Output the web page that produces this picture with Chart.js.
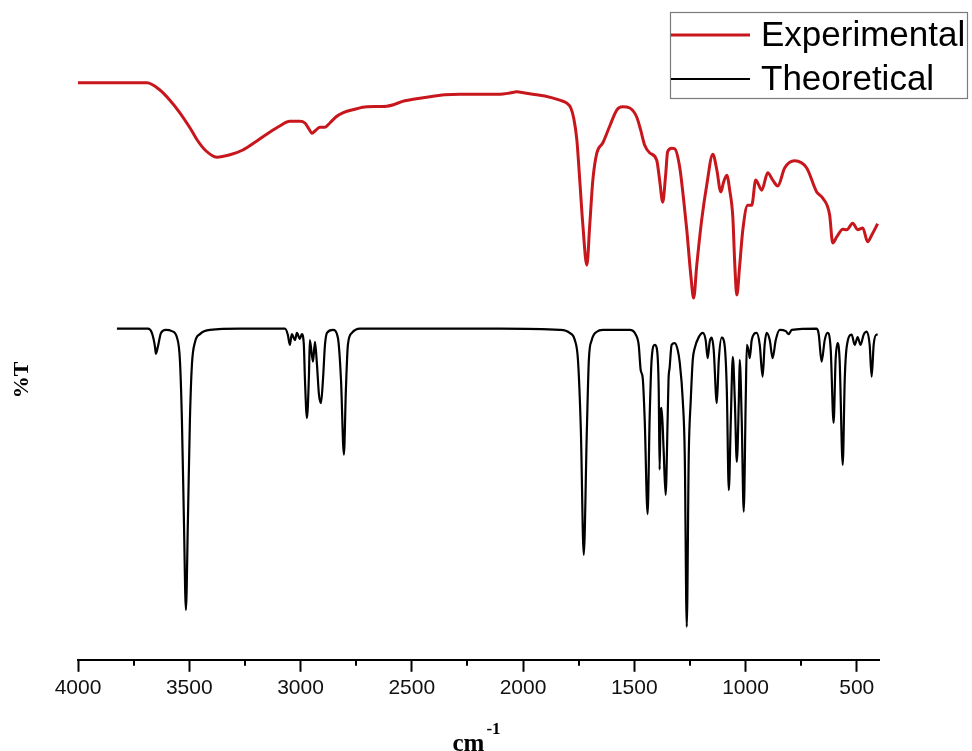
<!DOCTYPE html>
<html>
<head>
<meta charset="utf-8">
<script src="https://cdn.jsdelivr.net/npm/chart.js@4.4.1/dist/chart.umd.min.js"></script>
<style>
html,body{margin:0;padding:0;background:#fff;}
#c{display:block;}
</style>
</head>
<body>
<canvas id="c" width="972" height="751"></canvas>
<script>
// ---- data ----
const seriesNames = ["Experimental", "Theoretical"];
const xTickValues = [4000, 3500, 3000, 2500, 2000, 1500, 1000, 500];
const xMinorTickValues = [3750, 3250, 2750, 2250, 1750, 1250, 750];

const expWn = [4000,3901,3766,3690,3632,3587,3542,3497,3465,3429,3376,3317,3259,3196,3137,3093,3048,3003,2980,2962,2949,2931,2913,2890,2868,2841,2810,2756,2702,2612,2531,2432,2351,2284,2194,2104,2059,2028,1992,1956,1902,1835,1803,1785,1772,1758,1745,1731,1713,1700,1686,1668,1641,1610,1578,1552,1520,1489,1471,1453,1430,1399,1386,1372,1359,1350,1332,1318,1296,1278,1264,1246,1233,1219,1197,1174,1147,1129,1111,1098,1084,1071,1057,1048,1039,1026,1012,990,972,954,927,900,878,855,824,779,725,680,653,622,608,590,563,545,518,496,473,451,433,406];
const expT = [96.2,96.2,96.2,96.2,95.0,93.3,91.2,88.7,86.7,85.0,83.8,84.2,85.0,86.5,88.0,89.0,89.8,89.8,89.5,88.5,87.8,88.3,88.8,88.8,89.5,90.5,91.2,91.8,92.2,92.3,93.2,93.8,94.2,94.3,94.3,94.3,94.5,94.7,94.5,94.3,94.0,93.3,92.8,92.0,90.3,86.7,80.0,72.5,65.8,72.5,80.0,84.5,86.2,89.0,91.7,92.2,92.0,90.5,88.3,85.8,84.5,83.3,80.0,76.3,80.8,84.7,85.3,85.2,82.2,76.7,71.7,64.2,60.3,65.8,73.3,79.2,84.3,81.7,78.0,79.7,80.8,78.3,73.8,65.8,60.8,65.8,71.7,75.8,75.8,80.0,78.3,81.2,80.0,79.0,82.0,83.2,82.0,78.0,77.0,74.2,69.5,70.5,71.8,71.7,72.8,71.7,72.0,69.7,70.8,72.7];

const theoWn = [3825,3686,3668,3654,3650,3641,3627,3605,3578,3555,3542,3533,3524,3515,3506,3497,3488,3474,3452,3407,3272,3070,3057,3048,3039,3025,3016,3003,2994,2985,2980,2971,2962,2958,2944,2935,2926,2917,2908,2899,2890,2881,2854,2832,2818,2805,2796,2787,2769,2733,2553,2104,1835,1790,1767,1753,1740,1727,1713,1704,1691,1668,1641,1520,1493,1480,1471,1462,1453,1440,1431,1422,1408,1399,1390,1386,1381,1377,1368,1359,1350,1346,1341,1332,1318,1305,1296,1282,1273,1264,1255,1246,1237,1228,1210,1192,1179,1170,1161,1152,1143,1129,1120,1107,1094,1084,1075,1066,1057,1048,1039,1030,1026,1017,1008,999,994,985,981,972,950,936,923,914,905,891,878,864,846,819,806,792,680,671,658,644,631,617,604,595,586,577,563,554,545,523,509,496,483,469,455,442,433,424,411,406];
const theoT = [55.2,55.2,54.5,52.2,51.0,52.2,54.5,55.0,54.8,53.7,50.0,40.0,23.3,8.3,23.3,40.0,49.2,53.0,54.3,55.0,55.2,55.2,54.2,52.5,54.3,53.3,54.5,53.5,54.3,52.5,46.7,40.3,47.5,53.3,49.7,53.0,49.2,44.2,42.8,46.7,52.5,54.5,55.0,53.7,46.7,34.2,45.0,52.5,54.5,55.2,55.2,55.2,55.0,54.5,53.3,50.0,38.3,17.5,38.3,50.0,53.3,54.7,55.0,55.0,54.2,52.5,48.3,47.0,40.0,24.3,40.0,50.0,52.5,52.0,45.0,31.7,41.7,42.0,35.0,27.5,40.0,46.7,48.7,52.5,52.8,51.7,49.7,43.3,34.2,5.5,34.2,43.3,50.0,52.0,53.8,54.5,53.3,50.3,53.0,53.7,51.7,42.8,50.0,53.7,52.5,45.0,28.3,40.0,50.5,43.3,33.0,43.3,50.0,40.0,24.7,43.3,52.5,51.3,50.3,53.3,54.5,52.5,47.2,52.5,54.5,53.3,50.3,53.3,55.0,54.8,54.3,55.0,55.2,54.3,49.7,53.3,54.5,51.7,39.5,50.0,52.8,50.0,32.5,46.7,52.2,54.2,52.5,53.8,52.5,54.2,54.7,52.5,47.2,52.5,54.2,54.2];

// ---- build datasets ----
const toPts = (xs, ys) => xs.map((x, i) => ({x: x, y: ys[i]}));

const minorTicks = {
  id: 'minorTicks',
  afterDraw(chart) {
    const s = chart.scales.x, ctx = chart.ctx;
    ctx.save();
    ctx.strokeStyle = '#000';
    ctx.lineWidth = 2;
    xMinorTickValues.forEach(v => {
      const px = Math.round(s.getPixelForValue(v));
      ctx.beginPath();
      ctx.moveTo(px, s.top);
      ctx.lineTo(px, s.top + 6);
      ctx.stroke();
    });
    ctx.restore();
  }
};

const customLegend = {
  id: 'customLegend',
  afterDraw(chart) {
    const ctx = chart.ctx;
    const ds = chart.data.datasets;
    ctx.save();
    ctx.strokeStyle = '#7a7a7a';
    ctx.lineWidth = 1.2;
    ctx.strokeRect(670.5, 12.5, 297, 86);
    ctx.font = '35px "Liberation Sans", Arial, sans-serif';
    ctx.textBaseline = 'middle';
    ctx.fillStyle = '#000';
    const rows = [35, 79];
    ds.forEach((d, i) => {
      ctx.strokeStyle = d.borderColor;
      ctx.lineWidth = i === 0 ? 3 : 2;
      ctx.beginPath();
      ctx.moveTo(671, rows[i]);
      ctx.lineTo(750, rows[i]);
      ctx.stroke();
      ctx.fillText(d.label, 761, rows[i] + 1);
    });
    ctx.restore();
  }
};

const axisTexts = {
  id: 'axisTexts',
  afterDraw(chart) {
    const ctx = chart.ctx;
    const ca = chart.chartArea;
    ctx.save();
    ctx.fillStyle = '#000';
    // x title  cm^-1
    ctx.font = 'bold 25px "Liberation Serif", "Times New Roman", serif';
    ctx.textBaseline = 'alphabetic';
    ctx.textAlign = 'left';
    const cx = (ca.left + ca.right) / 2 - 26;
    ctx.fillText('cm', cx, 751);
    const w = ctx.measureText('cm').width;
    ctx.font = 'bold 17px "Liberation Serif", "Times New Roman", serif';
    ctx.fillText('-1', cx + w + 2, 734);
    // y title  %T
    ctx.font = 'bold 22px "Liberation Serif", "Times New Roman", serif';
    ctx.translate(22, 380);
    ctx.rotate(-Math.PI / 2);
    ctx.textAlign = 'center';
    ctx.textBaseline = 'middle';
    ctx.fillText('%T', 0, 0);
    ctx.restore();
  }
};

new Chart(document.getElementById('c'), {
  type: 'line',
  data: {
    datasets: [
      {
        label: seriesNames[0],
        data: toPts(expWn, expT),
        borderColor: '#c8161d',
        borderWidth: 3,
        pointRadius: 0,
        cubicInterpolationMode: 'monotone',
        fill: false
      },
      {
        label: seriesNames[1],
        data: toPts(theoWn, theoT),
        borderColor: '#000000',
        borderWidth: 2.2,
        pointRadius: 0,
        cubicInterpolationMode: 'monotone',
        fill: false
      }
    ]
  },
  options: {
    responsive: false,
    animation: false,
    devicePixelRatio: 1,
    layout: { padding: { left: 78, right: 93, top: 60, bottom: 46 } },
    plugins: {
      legend: { display: false },
      tooltip: { enabled: false }
    },
    scales: {
      x: {
        type: 'linear',
        reverse: true,
        min: 400,
        max: 4000,
        afterBuildTicks: (scale) => { scale.ticks = xTickValues.map(v => ({value: v})); },
        border: { display: true, color: '#000', width: 2 },
        grid: { drawOnChartArea: false, drawTicks: true, tickLength: 12, tickColor: '#000', tickWidth: 2 },
        ticks: {
          color: '#111',
          padding: 4,
          maxRotation: 0,
          autoSkip: false,
          font: { family: '"Liberation Sans", Arial, sans-serif', size: 21 },
          callback: (v) => String(v)
        }
      },
      y: {
        display: false,
        min: 0,
        max: 100
      }
    }
  },
  plugins: [minorTicks, customLegend, axisTexts]
});
</script>
</body>
</html>
